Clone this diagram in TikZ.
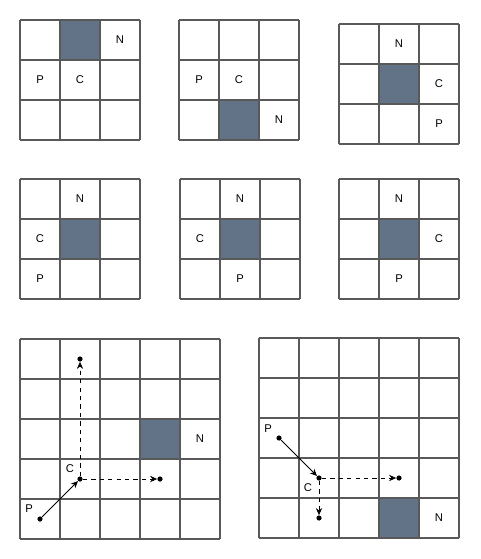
\documentclass[tikz,border=0pt]{standalone}
\usepackage{fontspec}
\setmainfont{Liberation Sans}
\usetikzlibrary{arrows.meta}

\definecolor{slate}{RGB}{99,115,135}

\begin{document}
\begin{tikzpicture}[
  font=\fontsize{8}{9.6}\selectfont,
  gridline/.style={draw=black!65, line width=0.9pt},
  block/.style={fill=slate},
  lbl/.style={inner sep=0pt},
  dot/.style={circle, fill=black, inner sep=0pt, minimum size=1.3mm},
  move/.style={-{Stealth[length=5pt,width=4.5pt]}, line width=0.6pt},
  probe/.style={move, dashed}
]
\useasboundingbox (0,0) rectangle (12,-13.975);

% top row
\begin{scope}[shift={(0.5,-0.5)}]
  \fill[block] (1,-1) rectangle (2,0);
  \draw[gridline] (0,-3) grid (3,0);
  \node[lbl] (n1) at (2.5,-0.5) {N};
  \node[lbl] (p1) at (0.5,-1.5) {P};
  \node[lbl] (c1) at (1.5,-1.5) {C};
\end{scope}
\begin{scope}[shift={(4.475,-0.5)}]
  \fill[block] (1,-3) rectangle (2,-2);
  \draw[gridline] (0,-3) grid (3,0);
  \node[lbl] (n2) at (2.5,-2.5) {N};
  \node[lbl] (p2) at (0.5,-1.5) {P};
  \node[lbl] (c2) at (1.5,-1.5) {C};
\end{scope}
\begin{scope}[shift={(8.475,-0.6)}]
  \fill[block] (1,-2) rectangle (2,-1);
  \draw[gridline] (0,-3) grid (3,0);
  \node[lbl] (n3) at (1.5,-0.5) {N};
  \node[lbl] (c3) at (2.5,-1.5) {C};
  \node[lbl] (p3) at (2.5,-2.5) {P};
\end{scope}

% middle row
\begin{scope}[shift={(0.5,-4.475)}]
  \fill[block] (1,-2) rectangle (2,-1);
  \draw[gridline] (0,-3) grid (3,0);
  \node[lbl] (n4) at (1.5,-0.5) {N};
  \node[lbl] (c4) at (0.5,-1.5) {C};
  \node[lbl] (p4) at (0.5,-2.5) {P};
\end{scope}
\begin{scope}[shift={(4.5,-4.475)}]
  \fill[block] (1,-2) rectangle (2,-1);
  \draw[gridline] (0,-3) grid (3,0);
  \node[lbl] (n5) at (1.5,-0.5) {N};
  \node[lbl] (c5) at (0.5,-1.5) {C};
  \node[lbl] (p5) at (1.5,-2.5) {P};
\end{scope}
\begin{scope}[shift={(8.475,-4.475)}]
  \fill[block] (1,-2) rectangle (2,-1);
  \draw[gridline] (0,-3) grid (3,0);
  \node[lbl] (n6) at (1.5,-0.5) {N};
  \node[lbl] (c6) at (2.5,-1.5) {C};
  \node[lbl] (p6) at (1.5,-2.5) {P};
\end{scope}

% bottom row
\begin{scope}[shift={(0.5,-8.475)}]
  \fill[block] (3,-3) rectangle (4,-2);
  \draw[gridline] (0,-5) grid (5,0);
  \node[lbl] (n7) at (4.5,-2.5) {N};
  \node[dot] (p7) at (0.5,-4.5) {};
  \node[dot] (c7) at (1.5,-3.5) {};
  \node[dot] (u7) at (1.5,-0.5) {};
  \node[dot] (r7) at (3.5,-3.5) {};
  \node[lbl] (pl7) at (0.225,-4.25) {P};
  \node[lbl] (cl7) at (1.25,-3.25) {C};
  \draw[move] (p7) -- (c7);
  \draw[probe] (c7) -- (u7);
  \draw[probe] (c7) -- (r7);
\end{scope}
\begin{scope}[shift={(6.475,-8.45)}]
  \fill[block] (3,-5) rectangle (4,-4);
  \draw[gridline] (0,-5) grid (5,0);
  \node[lbl] (n8) at (4.5,-4.5) {N};
  \node[dot] (p8) at (0.5,-2.5) {};
  \node[dot] (c8) at (1.5,-3.5) {};
  \node[dot] (r8) at (3.5,-3.5) {};
  \node[dot] (d8) at (1.5,-4.5) {};
  \node[lbl] (pl8) at (0.225,-2.275) {P};
  \node[lbl] (cl8) at (1.225,-3.75) {C};
  \draw[move] (p8) -- (c8);
  \draw[probe] (c8) -- (r8);
  \draw[probe] (c8) -- (d8);
\end{scope}
\end{tikzpicture}
\end{document}
